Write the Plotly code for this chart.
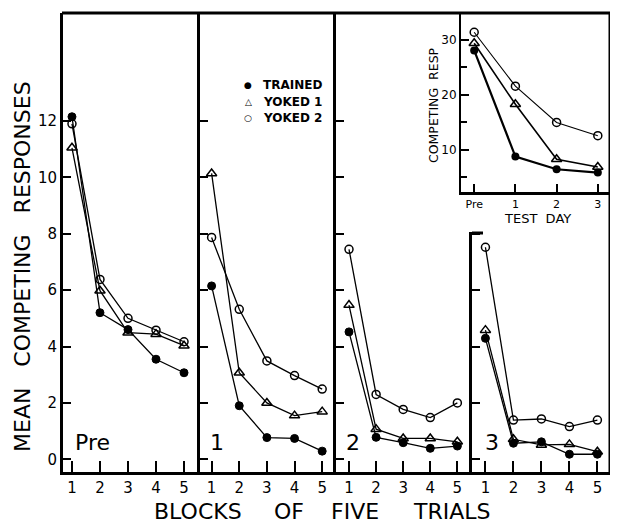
import plotly.graph_objects as go

# page body adds an 8px margin; the figure fills the rest of the 618x523 window
OFF = 8
W, H = 618 - OFF, 523 - OFF

blocks = [1, 2, 3, 4, 5]
block_labels = ["1", "2", "3", "4", "5"]

# Mean competing responses per block (panels: Pre, 1, 2, 3)
trained = {
    "Pre": [12.15, 5.2, 4.6, 3.55, 3.07],
    "1":   [6.15, 1.9, 0.77, 0.74, 0.29],
    "2":   [4.52, 0.78, 0.59, 0.39, 0.47],
    "3":   [4.29, 0.57, 0.62, 0.18, 0.18],
}
yoked1 = {
    "Pre": [11.05, 5.98, 4.49, 4.44, 4.03],
    "1":   [10.14, 3.07, 2.0, 1.55, 1.69],
    "2":   [5.47, 1.07, 0.74, 0.74, 0.62],
    "3":   [4.58, 0.71, 0.51, 0.53, 0.27],
}
yoked2 = {
    "Pre": [11.9, 6.38, 5.0, 4.58, 4.17],
    "1":   [7.87, 5.32, 3.49, 2.97, 2.49],
    "2":   [7.45, 2.3, 1.77, 1.48, 2.0],
    "3":   [7.52, 1.39, 1.43, 1.16, 1.39],
}
panels = ["Pre", "1", "2", "3"]

# Inset: total competing responses per test day
days = ["Pre", "1", "2", "3"]
inset_trained = [28.1, 8.8, 6.5, 5.9]
inset_yoked1 = [29.4, 18.3, 8.3, 6.9]
inset_yoked2 = [31.4, 21.6, 15.0, 12.6]

main_yticks = [0, 2, 4, 6, 8, 10, 12]
inset_yticks = [10, 20, 30]

x_title_words = ["BLOCKS", "OF", "FIVE", "TRIALS"]

FONT = "DejaVu Sans"


def px_x(v):
    return (v - OFF) / W


def px_y(v):
    return 1 - (v - OFF) / H


fig = go.Figure()

# panel geometry (pixels) and x ranges
panel_px = [(63, 200), (200, 336), (336, 472), (472, 610)]
panel_xr = [(0.68, 5.57), (0.58, 5.5), (0.52, 5.54), (0.52, 5.45)]
top_px, bot_px = 13, 472
ybot_val = -0.45
ytop_val = 15.83

styles = [
    ("TRAINED", trained, dict(symbol="circle", size=8, color="black",
                              line=dict(color="black", width=1))),
    ("YOKED 1", yoked1, dict(symbol="triangle-up-open", size=9, color="black",
                             line=dict(color="black", width=1.5))),
    ("YOKED 2", yoked2, dict(symbol="circle-open", size=8, color="black",
                             line=dict(color="black", width=1.5))),
]

for i, p in enumerate(panels):
    ax = "" if i == 0 else str(i + 1)
    for name, d, mk in styles:
        fig.add_trace(go.Scatter(
            x=blocks, y=d[p], mode="lines+markers", name=name,
            line=dict(color="black", width=1.3), marker=mk,
            xaxis="x" + ax, yaxis="y" + ax, showlegend=False,
            cliponaxis=False,
        ))
    x0, x1 = panel_px[i]
    ytop_px = top_px if i < 3 else 232
    yr_top = ytop_val if i < 3 else (459.3 - 232) / 28.2
    fig.layout["xaxis" + ax] = dict(
        domain=[px_x(x0), px_x(x1)], range=list(panel_xr[i]),
        anchor="y" + ax, tickmode="array", tickvals=blocks,
        ticktext=block_labels, ticks="inside", ticklen=11, tickwidth=2,
        tickcolor="black", showline=True, linewidth=3, linecolor="black",
        showgrid=False, zeroline=False,
        tickfont=dict(family=FONT, size=15, color="black"),
        ticklabelstandoff=0,
    )
    fig.layout["yaxis" + ax] = dict(
        domain=[px_y(bot_px), px_y(ytop_px)], range=[ybot_val, yr_top],
        anchor="x" + ax, tickmode="array", tickvals=main_yticks,
        ticktext=[str(v) for v in main_yticks] if i == 0 else [""] * 7,
        showticklabels=(i == 0),
        ticks="inside", ticklen=8, tickwidth=2, tickcolor="black",
        showline=True, linewidth=3, linecolor="black",
        showgrid=False, zeroline=False,
        tickfont=dict(family=FONT, size=15, color="black"),
    )

# inset
inset_styles = [
    (inset_trained, dict(symbol="circle", size=8, color="black"), 2.2),
    (inset_yoked1, dict(symbol="triangle-up-open", size=9, color="black",
                        line=dict(color="black", width=1.5)), 1.6),
    (inset_yoked2, dict(symbol="circle-open", size=8, color="black",
                        line=dict(color="black", width=1.5)), 1.1),
]
for vals, mk, lw in inset_styles:
    fig.add_trace(go.Scatter(
        x=list(range(len(days))), y=vals, mode="lines+markers",
        line=dict(color="black", width=lw), marker=mk,
        xaxis="x5", yaxis="y5", showlegend=False, cliponaxis=False,
    ))

fig.layout["xaxis5"] = dict(
    domain=[px_x(461), px_x(611)], range=[-0.32, 3.32], anchor="y5",
    tickmode="array", tickvals=list(range(len(days))), ticktext=days,
    ticks="inside", ticklen=8, tickwidth=1.5, tickcolor="black",
    showline=True, linewidth=3, linecolor="black", showgrid=False,
    zeroline=False, tickfont=dict(family=FONT, size=11, color="black"),
    ticklabelstandoff=0,
)
fig.layout["yaxis5"] = dict(
    domain=[px_y(192), px_y(13)], range=[2.36, 34.9], anchor="x5",
    tickmode="array", tickvals=inset_yticks,
    ticktext=[str(v) for v in inset_yticks],
    ticks="inside", ticklen=8, tickwidth=1.5, tickcolor="black",
    minor=dict(tickvals=[5, 15, 25], ticks="inside", ticklen=6,
               tickwidth=1.5, tickcolor="black"),
    showline=True, linewidth=2, linecolor="black", showgrid=False,
    zeroline=False, tickfont=dict(family=FONT, size=12, color="black"),
)

# frame lines (layout decoration)
shapes = [
    dict(type="line", xref="paper", yref="paper", x0=px_x(62), x1=px_x(612),
         y0=px_y(13), y1=px_y(13), line=dict(color="black", width=3)),
    dict(type="line", xref="paper", yref="paper", x0=px_x(610), x1=px_x(610),
         y0=px_y(12), y1=px_y(473), line=dict(color="black", width=3)),
    dict(type="line", xref="paper", yref="paper", x0=px_x(472), x1=px_x(483),
         y0=px_y(233), y1=px_y(233), line=dict(color="black", width=3)),
]

ann = []
# panel labels
for label, xp in [("Pre", 73), ("1", 208), ("2", 344), ("3", 483)]:
    ann.append(dict(text=label, x=px_x(xp), y=px_y(442), xref="paper",
                    yref="paper", xanchor="left", yanchor="middle",
                    showarrow=False,
                    font=dict(family=FONT, size=22, color="black")))
# main x-axis title, widely spaced words as in the original lettering
for word, xc in zip(x_title_words, [198, 289, 355, 451]):
    ann.append(dict(text=word, x=px_x(xc), y=px_y(511), xref="paper",
                    yref="paper", xanchor="center", yanchor="middle",
                    showarrow=False,
                    font=dict(family=FONT, size=22, color="black")))
ann.append(dict(text="MEAN\u00a0\u00a0 COMPETING\u00a0\u00a0 RESPONSES",
                x=px_x(22), y=px_y(267), xref="paper", yref="paper",
                xanchor="center", yanchor="middle", showarrow=False,
                textangle=-90,
                font=dict(family=FONT, size=22, color="black")))
# inset titles
ann.append(dict(text="TEST\u00a0\u00a0DAY", x=px_x(537), y=px_y(218),
                xref="paper", yref="paper", xanchor="center",
                yanchor="middle", showarrow=False,
                font=dict(family=FONT, size=13, color="black")))
ann.append(dict(text="COMPETING\u00a0 RESP", x=px_x(434), y=px_y(105),
                xref="paper", yref="paper", xanchor="center",
                yanchor="middle", showarrow=False, textangle=-90,
                font=dict(family=FONT, size=12.5, color="black")))
# legend
for (name, sym), yy in zip([("TRAINED", "\u25cf"), ("YOKED 1", "\u25b3"),
                            ("YOKED 2", "\u25cb")], [85, 102, 118]):
    ann.append(dict(text=sym, x=px_x(248), y=px_y(yy), xref="paper",
                    yref="paper", xanchor="center", yanchor="middle",
                    showarrow=False,
                    font=dict(family=FONT, size=9, color="black")))
    ann.append(dict(text="<b>" + name + "</b>", x=px_x(261), y=px_y(yy),
                    xref="paper", yref="paper", xanchor="left",
                    yanchor="middle", showarrow=False,
                    font=dict(family=FONT, size=12, color="black")))

fig.update_layout(
    width=W, height=H, margin=dict(l=0, r=0, t=0, b=0),
    paper_bgcolor="white", plot_bgcolor="white",
    shapes=shapes, annotations=ann, showlegend=False,
    font=dict(family=FONT, color="black"),
)

fig.write_html("out.html")
